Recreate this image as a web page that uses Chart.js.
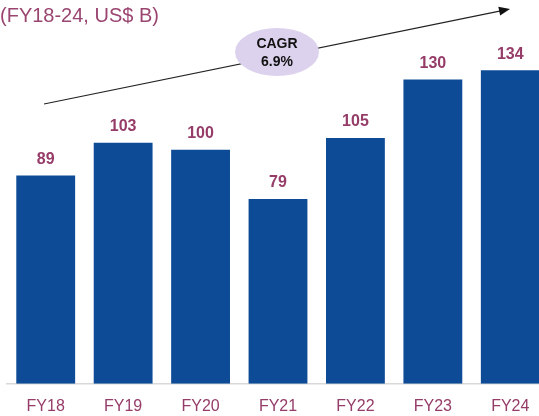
<!DOCTYPE html>
<html>
<head>
<meta charset="utf-8">
<script src="https://cdn.jsdelivr.net/npm/chart.js@4/dist/chart.umd.min.js"></script>
<style>
    html, body { margin: 0; padding: 0; background: #fff; overflow: hidden; }
    #wrap { position: relative; width: 556px; height: 430px; }
</style>
</head>
<body>
<div id="wrap"><canvas id="revChart"></canvas></div>
<script>
const years = ['FY18', 'FY19', 'FY20', 'FY21', 'FY22', 'FY23', 'FY24'];
const revenue = [89, 103, 100, 79, 105, 130, 134];
const cagrText = ['CAGR', '6.9%'];
const subtitle = '(FY18-24, US$ B)';

const barColor = '#0E4B96';
const maroon = '#963C68';
const fontFamily = 'Arial, "Liberation Sans", sans-serif';

// value labels, subtitle, CAGR arrow + bubble
const overlayPlugin = {
    id: 'overlay',
    afterDatasetsDraw(chart) {
        const ctx = chart.ctx;
        const meta = chart.getDatasetMeta(0);

        ctx.save();
        ctx.fillStyle = maroon;
        ctx.font = 'bold 16px ' + fontFamily;
        ctx.textAlign = 'center';
        ctx.textBaseline = 'middle';
        meta.data.forEach((bar, i) => {
            ctx.fillText(revenue[i], bar.x, bar.y - 16);
        });

        ctx.font = '20px ' + fontFamily;
        ctx.textAlign = 'left';
        ctx.fillStyle = '#9A4570';
        ctx.fillText(subtitle, 0, 16);

        // trend arrow
        const x1 = 44, y1 = 104, x2 = 510, y2 = 9;
        ctx.strokeStyle = '#222';
        ctx.lineWidth = 1.2;
        ctx.beginPath();
        ctx.moveTo(x1, y1);
        ctx.lineTo(x2 - 8, y2 + 1.6);
        ctx.stroke();
        const ang = Math.atan2(y2 - y1, x2 - x1);
        ctx.fillStyle = '#111';
        ctx.beginPath();
        ctx.moveTo(x2, y2);
        ctx.lineTo(x2 - 11 * Math.cos(ang) + 4.5 * Math.sin(ang), y2 - 11 * Math.sin(ang) - 4.5 * Math.cos(ang));
        ctx.lineTo(x2 - 11 * Math.cos(ang) - 4.5 * Math.sin(ang), y2 - 11 * Math.sin(ang) + 4.5 * Math.cos(ang));
        ctx.closePath();
        ctx.fill();

        // CAGR bubble
        ctx.fillStyle = '#DDD2EE';
        ctx.beginPath();
        ctx.ellipse(277, 52, 42, 24, 0, 0, Math.PI * 2);
        ctx.fill();
        ctx.fillStyle = '#111';
        ctx.font = 'bold 14px ' + fontFamily;
        ctx.textAlign = 'center';
        ctx.fillText(cagrText[0], 277, 44);
        ctx.fillText(cagrText[1], 277, 62);
        ctx.restore();
    }
};

new Chart(document.getElementById('revChart'), {
    type: 'bar',
    data: {
        labels: years,
        datasets: [{
            data: revenue,
            backgroundColor: barColor,
            categoryPercentage: 1,
            barPercentage: 0.76
        }]
    },
    options: {
        responsive: true,
        maintainAspectRatio: false,
        animation: false,
        layout: { padding: { left: 7, right: 7, top: 0, bottom: 1 } },
        plugins: {
            legend: { display: false },
            tooltip: { enabled: false }
        },
        scales: {
            x: {
                grid: { display: false, drawTicks: false },
                border: { display: true, color: '#D9D9D9', width: 1.5 },
                ticks: {
                    color: maroon,
                    padding: 13,
                    font: { size: 16, family: fontFamily }
                }
            },
            y: {
                display: false,
                min: 0,
                max: 164
            }
        }
    },
    plugins: [overlayPlugin]
});
</script>
</body>
</html>
